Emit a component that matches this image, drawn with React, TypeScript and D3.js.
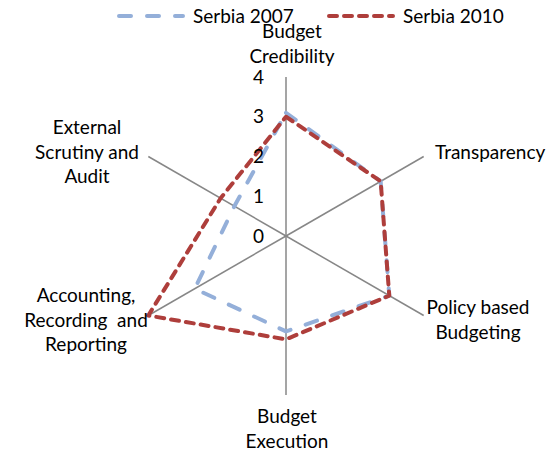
import React from "react";
import * as d3 from "d3";

const categories = [
  "Budget\nCredibility",
  "Transparency",
  "Policy based\nBudgeting",
  "Budget\nExecution",
  "Accounting,\nRecording  and\nReporting",
  "External\nScrutiny and\nAudit",
];
const serbia2007 = [3.1, 2.75, 3.0, 2.4, 2.65, 1.5];
const serbia2010 = [3.0, 2.75, 3.0, 2.6, 4.0, 1.9];
const ticks = [0, 1, 2, 3, 4];
const seriesNames = ["Serbia 2007", "Serbia 2010"];

const W = 552, H = 455;
const cx = 286, cy = 236;
const FONT = "Lato, 'Open Sans', sans-serif";
const FS = 19;

const colors = ["#94AFD9", "#AE3E3B"];
const dashes = ["12 16", "8 7"];

// label anchor positions (layout)
const labelPos = [
  { x: 292, y: 33, anchor: "middle" },
  { x: 435, y: 154, anchor: "start" },
  { x: 478, y: 309, anchor: "middle" },
  { x: 287, y: 418, anchor: "middle" },
  { x: 86, y: 297, anchor: "middle" },
  { x: 87, y: 129, anchor: "middle" },
];

export default function App() {
  const r = d3.scaleLinear().domain([0, 4]).range([0, 159]);
  const angle = d3
    .scalePoint<number>()
    .domain(d3.range(categories.length + 1))
    .range([0, 2 * Math.PI]);
  const line = d3
    .lineRadial<number>()
    .angle((_, i) => angle(i) as number)
    .radius((d) => r(d))
    .curve(d3.curveLinearClosed);

  const series = [serbia2007, serbia2010];

  return (
    <svg
      width={W}
      height={H}
      style={{ position: "absolute", left: 0, top: 0, background: "#fff" }}
      fontFamily={FONT}
    >
      <g transform={`translate(${cx},${cy})`}>
        {categories.map((_, i) => {
          const a = (angle(i) as number) - Math.PI / 2;
          return (
            <line
              key={i}
              x1={0}
              y1={0}
              x2={Math.cos(a) * r(4)}
              y2={Math.sin(a) * r(4)}
              stroke="#878787"
              strokeWidth={1.5}
            />
          );
        })}
        {series.map((s, k) => (
          <path
            key={k}
            d={line(s) || ""}
            fill="none"
            stroke={colors[k]}
            strokeWidth={4}
            strokeDasharray={dashes[k]}
            strokeLinecap="round"
            strokeLinejoin="round"
          />
        ))}
        {ticks.map((t) => (
          <text
            key={t}
            x={-22}
            y={-r(t)}
            dy="0.35em"
            textAnchor="end"
            fontSize={FS}
            fill="#000"
          >
            {t}
          </text>
        ))}
      </g>
      {categories.map((c, i) => {
        const p = labelPos[i];
        return (
          <text
            key={i}
            x={p.x}
            y={p.y}
            textAnchor={p.anchor as any}
            fontSize={FS}
            fill="#000"
            dominantBaseline="middle"
          >
            {c.split("\n").map((ln, j) => (
              <tspan key={j} x={p.x} dy={j === 0 ? 0 : 24.5} style={{ whiteSpace: "pre" }}>
                {ln}
              </tspan>
            ))}
          </text>
        );
      })}
      {seriesNames.map((n, k) => {
        const x0 = k === 0 ? 117 : 327;
        return (
          <g key={n}>
            <line
              x1={x0 + 2}
              x2={x0 + 66}
              y1={16}
              y2={16}
              stroke={colors[k]}
              strokeWidth={4}
              strokeDasharray={dashes[k]}
              strokeLinecap="round"
            />
            <text x={x0 + 76} y={16} dy="0.35em" fontSize={FS} fill="#000">
              {n}
            </text>
          </g>
        );
      })}
    </svg>
  );
}
